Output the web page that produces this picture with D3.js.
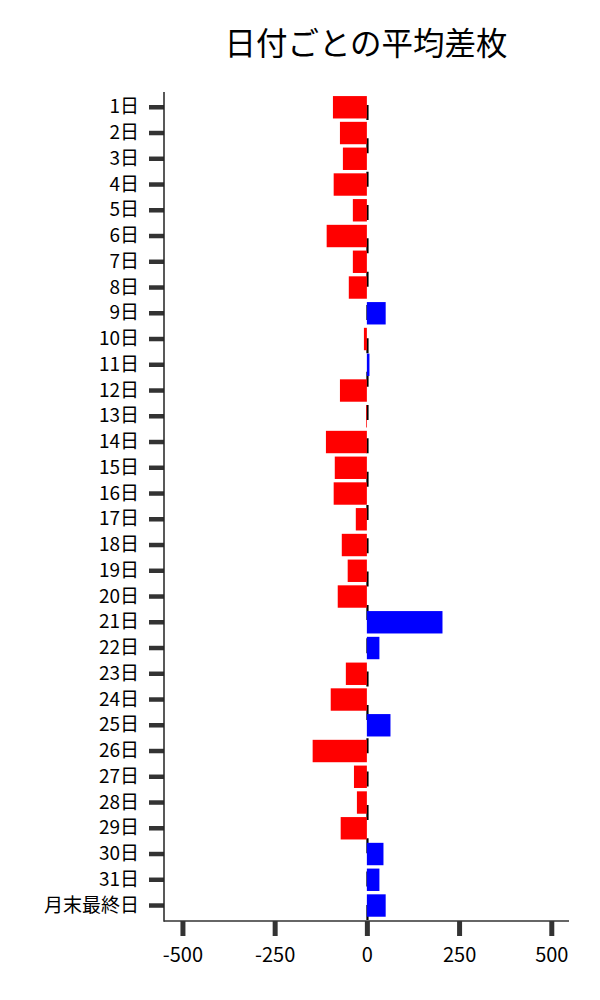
<!DOCTYPE html>
<html>
<head>
<meta charset="utf-8">
<script src="https://cdn.jsdelivr.net/npm/d3@7"></script>
<style>
  body { margin: 0; background: #fff; }
  text { font-family: "Noto Sans CJK JP", "Noto Sans", sans-serif; }
</style>
</head>
<body>
<svg id="chart" width="600" height="1000"></svg>
<script>
// day labels, top to bottom
var days = ["1日","2日","3日","4日","5日","6日","7日","8日","9日","10日",
    "11日","12日","13日","14日","15日","16日","17日","18日","19日","20日",
    "21日","22日","23日","24日","25日","26日","27日","28日","29日","30日",
    "31日","月末最終日"];
// average diff per day
var avgDiff = [-92, -73, -65, -90, -38, -109, -38, -49, 51, -8,
    7, -73, -2, -111, -87, -90, -30, -68, -52, -79,
    205, 34, -57, -98, 64, -147, -35, -27, -71, 45,
    34, 51];
var xTicks = [-500, -250, 0, 250, 500];

var svg = d3.select("#chart");
var data = days.map(function(d, i) { return {day: d, value: avgDiff[i]}; });

var x = d3.scaleLinear()
    .domain([-550, 548])
    .range([164, 569]);

var y = d3.scaleBand()
    .domain(days)
    .range([94.4, 918.4])
    .paddingInner(0.13)
    .paddingOuter(0.065);

// title
svg.append("text")
    .attr("x", 366)
    .attr("y", 55)
    .attr("text-anchor", "middle")
    .style("font-size", "31.5px")
    .attr("fill", "#000")
    .text("日付ごとの平均差枚");

// dashed zero line (behind bars)
svg.append("line")
    .attr("x1", x(0) + 0.6).attr("x2", x(0) + 0.6)
    .attr("y1", 105).attr("y2", 921)
    .attr("stroke", "#000")
    .attr("stroke-width", 2.2)
    .attr("stroke-dasharray", "15,18.33");

// bars
svg.selectAll("rect.bar")
    .data(data)
    .enter().append("rect")
    .attr("class", "bar")
    .attr("x", function(d) { return x(Math.min(0, d.value)); })
    .attr("y", function(d) { return y(d.day); })
    .attr("width", function(d) { return Math.abs(x(d.value) - x(0)); })
    .attr("height", y.bandwidth())
    .attr("fill", function(d) { return d.value < 0 ? "#ff0000" : "#0000ff"; });

// y axis
var yAxis = svg.append("g")
    .attr("transform", "translate(164,0)")
    .call(d3.axisLeft(y).tickSize(15).tickPadding(10));
yAxis.select(".domain").remove();
yAxis.selectAll(".tick line").attr("stroke", "#333").attr("stroke-width", 4.5);
yAxis.selectAll(".tick text")
    .style("font-size", "19px")
    .attr("fill", "#000");

// x axis
var xAxis = svg.append("g")
    .attr("transform", "translate(0,921)")
    .call(d3.axisBottom(x).tickValues(xTicks).tickSize(15).tickPadding(12)
        .tickFormat(function(d) { return String(d); }));
xAxis.select(".domain").remove();
xAxis.selectAll(".tick line").attr("stroke", "#333").attr("stroke-width", 5);
xAxis.selectAll(".tick text")
    .style("font-size", "20px")
    .attr("fill", "#000");

// spines
svg.append("line")
    .attr("x1", 164).attr("x2", 164)
    .attr("y1", 92).attr("y2", 921.7)
    .attr("stroke", "#222").attr("stroke-width", 1.5);
svg.append("line")
    .attr("x1", 164).attr("x2", 569)
    .attr("y1", 921).attr("y2", 921)
    .attr("stroke", "#333").attr("stroke-width", 1.5);
</script>
</body>
</html>
